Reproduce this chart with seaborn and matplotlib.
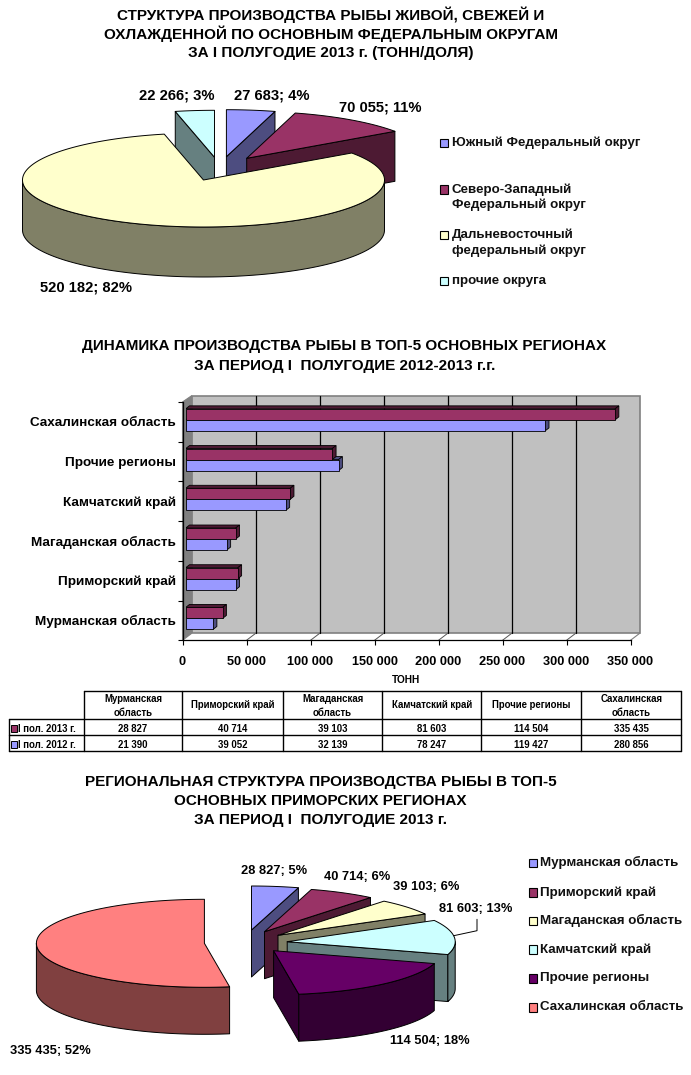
import numpy as np
import pandas as pd
import matplotlib
matplotlib.use("Agg")
import matplotlib.pyplot as plt
import seaborn as sns

# ── DATA ──────────────────────────────────────────────────────
okrug_names = ["Южный Федеральный округ", "Северо-Западный\nФедеральный округ",
               "Дальневосточный\nфедеральный округ", "прочие округа"]
okrug_vals = [27683, 70055, 520182, 22266]
okrug_labels = ["27 683; 4%", "70 055; 11%", "520 182; 82%", "22 266; 3%"]

regions = ["Мурманская область", "Приморский край", "Магаданская область",
           "Камчатский край", "Прочие регионы", "Сахалинская область"]
vals_2013 = [28827, 40714, 39103, 81603, 114504, 335435]
vals_2012 = [21390, 39052, 32139, 78247, 119427, 280856]
region_labels = ["28 827; 5%", "40 714; 6%", "39 103; 6%", "81 603; 13%",
                 "114 504; 18%", "335 435; 52%"]
series_names = ["I пол. 2013 г.", "I пол. 2012 г."]
table_heads = ["Мурманская\nобласть", "Приморский край", "Магаданская\nобласть",
               "Камчатский край", "Прочие регионы", "Сахалинская\nобласть"]
table_2013 = ["28 827", "40 714", "39 103", "81 603", "114 504", "335 435"]
table_2012 = ["21 390", "39 052", "32 139", "78 247", "119 427", "280 856"]

title1 = ["СТРУКТУРА ПРОИЗВОДСТВА РЫБЫ ЖИВОЙ, СВЕЖЕЙ И",
          "ОХЛАЖДЕННОЙ ПО ОСНОВНЫМ ФЕДЕРАЛЬНЫМ ОКРУГАМ",
          "ЗА I ПОЛУГОДИЕ 2013 г. (ТОНН/ДОЛЯ)"]
title2 = ["ДИНАМИКА ПРОИЗВОДСТВА РЫБЫ В ТОП-5 ОСНОВНЫХ РЕГИОНАХ",
          "ЗА ПЕРИОД I  ПОЛУГОДИЕ 2012-2013 г.г."]
title3 = ["РЕГИОНАЛЬНАЯ СТРУКТУРА ПРОИЗВОДСТВА РЫБЫ В ТОП-5",
          "ОСНОВНЫХ ПРИМОРСКИХ РЕГИОНАХ",
          "ЗА ПЕРИОД I  ПОЛУГОДИЕ 2013 г."]

# colours
BLUE, WINE, CREAM, AQUA, PURPLE, SALMON = "#9999FF", "#993366", "#FFFFCC", "#CCFFFF", "#660066", "#FF8080"
side = {BLUE: "#4D4D80", WINE: "#4D1A33", CREAM: "#808066", AQUA: "#668080",
        PURPLE: "#330033", SALMON: "#804040"}
okrug_colors = [BLUE, WINE, CREAM, AQUA]
region_colors = [BLUE, WINE, CREAM, AQUA, PURPLE, SALMON]

sns.set_style("white")
plt.rcParams["font.family"] = ["Liberation Sans", "DejaVu Sans"]
plt.rcParams["text.color"] = "black"
plt.rcParams["xtick.labelcolor"] = "black"
plt.rcParams["ytick.labelcolor"] = "black"

fig = plt.figure(figsize=(6.91, 10.75), dpi=100)
W, H = 691, 1075


def px_axes(left, top, right, bottom, z):
    return fig.add_axes([left / W, 1 - bottom / H, (right - left) / W, (bottom - top) / H], zorder=z)


# full-figure axes in pixel coordinates, y going down
bg = px_axes(0, 0, W, H, 0)
bg.set_xlim(0, W)
bg.set_ylim(H, 0)
bg.axis("off")


def arc(c, a, b, rx, ry):
    t = np.radians(np.linspace(a, b, max(int(abs(b - a)) * 2, 2)))
    return c[0] + rx * np.sin(t), c[1] - ry * np.cos(t)


def pie3d(values, colors, centers, order, rx, ry, depth):
    edges = np.concatenate([[0], np.cumsum(values)]) / np.sum(values) * 360
    for i in order:
        a, b, c = edges[i], edges[i + 1], centers[i]
        face, dark = colors[i], side[colors[i]]
        kw = dict(edgecolor="black", lw=0.7, joinstyle="round")
        # cut faces that look towards the viewer
        for ang, visible in ((a, a > 180), (b, b < 180)):
            if visible:
                x, y = arc(c, ang, ang, rx, ry)
                bg.fill([c[0], x[0], x[0], c[0]], [c[1], y[0], y[0] + depth, c[1] + depth],
                        facecolor=dark, **kw)
        # outer wall on the front half
        lo, hi = max(a, 90), min(b, 270)
        if lo < hi:
            x, y = arc(c, lo, hi, rx, ry)
            bg.fill(np.r_[x, x[::-1]], np.r_[y, y[::-1] + depth], facecolor=dark, **kw)
        x, y = arc(c, a, b, rx, ry)
        bg.fill(np.r_[c[0], x], np.r_[c[1], y], facecolor=face, **kw)


def lines(rows, cx, ys, size=11):
    for s, y in zip(rows, ys):
        bg.text(cx, y, s, ha="center", va="center", fontsize=size, fontweight="bold", color="black")


def legend(names, colors, x, ys, size=9.65):
    for s, c, y in zip(names, colors, ys):
        bg.fill([x, x + 8.5, x + 8.5, x], [y - 4.2, y - 4.2, y + 4.2, y + 4.2],
                facecolor=c, edgecolor="black", lw=0.8)
        first, *rest = s.split("\n")
        bg.text(x + 11.7, y, first, va="center", fontsize=size, fontweight="bold", color="#111111")
        for k, r in enumerate(rest):
            bg.text(x + 11.7, y + 15.5 * (k + 1), r, va="center", fontsize=size, fontweight="bold", color="#111111")


# ── PIE 1 ─────────────────────────────────────────────────────
lines(title1, 331, [14.7, 33.7, 52.7], size=11)
pie3d(okrug_vals, okrug_colors, [(226.4, 156.7), (246.7, 158.3), (203.5, 180), (214.5, 157.3)],
      [3, 0, 1, 2], 181, 47, 50)
for s, x, y in zip(okrug_labels, [271.6, 380.6, 86.3, 177], [96, 107.3, 287.3, 96]):
    bg.text(x, y, s, ha="center", va="center", fontsize=10.6, fontweight="bold")
legend(okrug_names, okrug_colors, 440, [143, 189.3, 235, 281])

# ── BARS ──────────────────────────────────────────────────────
lines(title2, 344.5, [346, 366], size=11)

# back wall, side wall and floor of the 3D box
bg.fill([191.7, 639.7, 639.7, 191.7], [395.7, 395.7, 633.3, 633.3], facecolor="#C0C0C0", edgecolor="#808080", lw=1.2)
bg.fill([182.5, 191.7, 191.7, 182.5], [402, 395.7, 633.3, 640.3], facecolor="#808080", edgecolor="#808080", lw=0.8)
bg.plot([630.5, 639.7], [640.3, 633.3], color="#808080", lw=0.8)

ax = px_axes(182.5, 402, 630.5, 640.3, 1)
ax.patch.set_alpha(0)
ax.set_xlim(0, 350000)
ax.set_ylim(6, 0)
ax.set_xticks(np.arange(0, 350001, 50000))
ax.set_xticklabels([f"{v:,}".replace(",", " ") for v in np.arange(0, 350001, 50000)],
                   fontsize=9.2, fontweight="bold")
ax.set_yticks(np.arange(7))
ax.set_yticks(np.arange(6) + 0.5, minor=True)
ax.set_yticklabels([])
ax.set_yticklabels(regions[::-1], minor=True, fontsize=9.7, fontweight="bold")
ax.tick_params(axis="y", which="major", length=3.5, width=0.8, color="black", left=True)
ax.tick_params(axis="y", which="minor", length=0, pad=5)
ax.tick_params(axis="x", length=3.5, width=0.8, color="black", bottom=True, pad=7.5)
for name in ("top", "right"):
    ax.spines[name].set_visible(False)
for name in ("left", "bottom"):
    ax.spines[name].set_color("black")
    ax.spines[name].set_linewidth(0.9)

# grid on the wall, with the slanted bit across the floor
for v in np.arange(50000, 350000, 50000):
    x = 182.5 + v / 350000 * 448
    bg.plot([x + 9.2, x + 9.2], [395.7, 633.3], color="black", lw=0.9)
    bg.plot([x, x + 9.2], [640.3, 633.3], color="#555555", lw=0.7)

bars_df = pd.DataFrame({"region": regions * 2,
                        "tons": vals_2013 + vals_2012,
                        "period": [series_names[0]] * 6 + [series_names[1]] * 6})
ax_bar = px_axes(185.7, 400, 633.7, 638.3, 2)
sns.barplot(data=bars_df, y="region", x="tons", hue="period", order=regions[::-1],
            hue_order=series_names, palette=[WINE, BLUE], saturation=1, width=0.554, gap=0,
            edgecolor="black", linewidth=0.6, legend=False, ax=ax_bar)
ax_bar.set_xlim(0, 350000)
ax_bar.set_ylim(5.5, -0.5)
ax_bar.axis("off")
ax_bar.patch.set_alpha(0)

# depth faces of the bars, taken from the bars seaborn drew
dx, dy = 3.8 / 448 * 350000, 3 / 39.7
for cont, col in zip(ax_bar.containers[::-1], [BLUE, WINE]):
    for p in cont:
        x0, x1 = p.get_x(), p.get_x() + p.get_width()
        y0, y1 = sorted((p.get_y(), p.get_y() + p.get_height()))
        ax_bar.fill([x0, x0 + dx, x1 + dx, x1], [y0, y0 - dy, y0 - dy, y0],
                    facecolor=side[col], edgecolor="black", lw=0.6, zorder=1)
        ax_bar.fill([x1, x1 + dx, x1 + dx, x1], [y0, y0 - dy, y1 - dy, y1],
                    facecolor=side[col], edgecolor="black", lw=0.6, zorder=1)
    for p in cont:
        p.set_zorder(2)

bg.text(405.7, 679.7, "ТОНН", ha="center", va="center", fontsize=7.3, fontweight="bold")

# ── TABLE ─────────────────────────────────────────────────────
col_x = [83.7, 182.4, 282.8, 382.4, 481, 581.5, 681.5]
row_y = [690.7, 719.3, 735.3, 751]
tk = dict(color="black", lw=1)
for x in col_x:
    bg.plot([x, x], [row_y[0], row_y[3]], **tk)
bg.plot([9.3, 9.3], [row_y[1], row_y[3]], **tk)
bg.plot([83.7, 681.5], [row_y[0], row_y[0]], **tk)
for y in row_y[1:]:
    bg.plot([9.3, 681.5], [y, y], **tk)
for i, s in enumerate(table_heads):
    cx = (col_x[i] + col_x[i + 1]) / 2
    bg.text(cx, 705.5, s, ha="center", va="center", fontsize=6.9, fontweight="bold", linespacing=1.5)
    bg.text(cx, 728.5, table_2013[i], ha="center", va="center", fontsize=6.9, fontweight="bold")
    bg.text(cx, 744.5, table_2012[i], ha="center", va="center", fontsize=6.9, fontweight="bold")
for s, c, y in zip(series_names, [WINE, BLUE], [728.5, 744.5]):
    bg.fill([10.6, 17.4, 17.4, 10.6], [y - 3.5, y - 3.5, y + 3, y + 3], facecolor=c, edgecolor="black", lw=0.7)
    bg.text(18.5, y, s, va="center", fontsize=6.9, fontweight="bold")

# ── PIE 2 ─────────────────────────────────────────────────────
lines(title3, 320.5, [782, 801, 820])
pie3d(vals_2013, region_colors,
      [(251.5, 930), (264.5, 931.7), (278, 935.3), (287.2, 941.7), (273.6, 950.7), (204.4, 943.3)],
      [5, 0, 1, 2, 3, 4], 168, 44, 47)
for s, x, y in zip(region_labels, [274.4, 357, 426, 475.5, 429.5, 50], [871.3, 877.3, 886.7, 909.3, 1041.3, 1051]):
    bg.text(x, y, s, ha="center", va="center", fontsize=9.3, fontweight="bold")
bg.plot([453.7, 477, 477], [935.7, 930.7, 919.3], color="black", lw=0.7)
legend(regions, region_colors, 528.7, [862.7, 892.3, 920.7, 949.3, 978.3, 1007.3], size=9.6)

fig.savefig("out.png", dpi=100, facecolor="white")
